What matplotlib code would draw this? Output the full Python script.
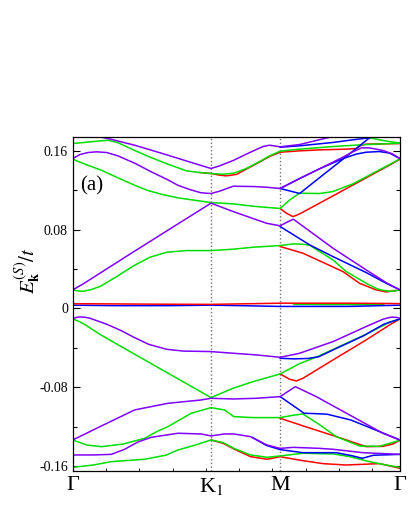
import numpy as np
import matplotlib
matplotlib.use('Agg')
import matplotlib.pyplot as plt
from matplotlib.ticker import MultipleLocator

plt.rcParams['font.family'] = ['Liberation Serif', 'DejaVu Serif']
plt.rcParams['mathtext.fontset'] = 'stix'
plt.rcParams['axes.unicode_minus'] = False

# high-symmetry points along the path (Gamma-K1 = 1)
k_ticks = [0.0, 1.0, 1.5, 1.5 + np.sqrt(3) / 2]
k_labels = ['Γ', 'K$_1$', 'M', 'Γ']

PURPLE = '#8000ff'
GREEN = '#00dd00'
RED = '#ff0000'
BLUE = '#0000ff'

# ---- bands above zero: (k, E/t) ----
P1 = [(0.12, 0.1800), (0.173, 0.1745), (0.255, 0.1724), (0.448, 0.1656), (0.568, 0.1606),
      (0.688, 0.1555), (0.881, 0.1471), (1.0, 0.1420), (1.063, 0.1447), (1.165, 0.1504),
      (1.280, 0.1582), (1.376, 0.1643), (1.424, 0.1656), (1.5, 0.1640), (1.641, 0.1663),
      (1.761, 0.1704), (1.882, 0.1745), (1.978, 0.1780)]
G1 = [(0.0, 0.1673), (0.125, 0.1690), (0.255, 0.1707), (0.33, 0.1680), (0.448, 0.1603),
      (0.568, 0.1530), (0.688, 0.1464), (0.823, 0.1396), (0.919, 0.1379), (1.0, 0.1369),
      (1.088, 0.1362), (1.165, 0.1373), (1.256, 0.1420), (1.352, 0.1491), (1.424, 0.1548),
      (1.5, 0.1596), (1.641, 0.1616), (1.882, 0.1643), (2.122, 0.1663), (2.366, 0.1677)]
R1 = [(0.919, 0.1379), (1.0, 0.1369), (1.063, 0.1352), (1.111, 0.1345), (1.184, 0.1360),
      (1.256, 0.1414), (1.352, 0.1486), (1.424, 0.1542), (1.5, 0.1585), (1.641, 0.1599),
      (1.785, 0.1609), (1.978, 0.1616), (2.050, 0.1623), (2.086, 0.1656), (2.122, 0.1667),
      (2.243, 0.1670), (2.366, 0.1673)]
G1b = [(2.074, 0.1765), (2.146, 0.1731), (2.243, 0.1704), (2.366, 0.1677)]
B1 = [(1.5, 0.1636), (1.641, 0.1650), (1.882, 0.1684), (2.026, 0.1711), (2.122, 0.1727),
      (2.194, 0.1745)]
B2 = [(1.5, 0.1217), (1.57, 0.1192), (1.641, 0.1166), (1.75, 0.1288), (1.954, 0.1514),
      (2.146, 0.1731), (2.194, 0.1780)]
B3 = [(1.5, 0.1217), (1.641, 0.1318), (1.785, 0.1417), (1.954, 0.1520), (2.050, 0.1566),
      (2.122, 0.1585), (2.218, 0.1592), (2.291, 0.1576), (2.366, 0.1521)]
P2 = [(0.0, 0.1521), (0.053, 0.1562), (0.111, 0.1582), (0.173, 0.1589), (0.245, 0.1582),
      (0.327, 0.1548), (0.448, 0.1474), (0.568, 0.1386), (0.688, 0.1305), (0.760, 0.1250),
      (0.847, 0.1206), (0.929, 0.1173), (1.0, 0.1166), (1.063, 0.1190), (1.160, 0.1240),
      (1.304, 0.1237), (1.400, 0.1230), (1.5, 0.1217), (1.641, 0.1318), (1.785, 0.1417),
      (1.954, 0.1535), (2.026, 0.1589), (2.089, 0.1629), (2.146, 0.1629), (2.243, 0.1603),
      (2.310, 0.1569), (2.366, 0.1521)]
G2 = [(0.0, 0.1514), (0.101, 0.1457), (0.207, 0.1403), (0.327, 0.1325), (0.448, 0.1250),
      (0.544, 0.1196), (0.640, 0.1159), (0.760, 0.1122), (0.881, 0.1098), (1.0, 0.1074),
      (1.160, 0.1061), (1.304, 0.1037), (1.5, 0.1014), (1.569, 0.1101), (1.641, 0.1169),
      (1.785, 0.1166), (1.882, 0.1186), (2.026, 0.1264), (2.209, 0.1399), (2.291, 0.1460),
      (2.366, 0.1518)]
R2 = [(1.5, 0.1014), (1.545, 0.0966), (1.593, 0.0932), (1.641, 0.0959), (1.882, 0.1142),
      (2.122, 0.1325), (2.291, 0.1454), (2.366, 0.1514)]
P3 = [(0.0, 0.0188), (0.077, 0.0250), (0.438, 0.0573), (0.80, 0.0892), (1.0, 0.1068),
      (1.160, 0.0983), (1.304, 0.0912), (1.400, 0.0865), (1.5, 0.0838), (1.553, 0.0878),
      (1.596, 0.0905), (1.882, 0.0611), (2.122, 0.0391), (2.267, 0.0262), (2.366, 0.0188)]
B4 = [(1.5, 0.0831), (1.713, 0.0645), (1.882, 0.0526), (2.122, 0.0364), (2.267, 0.0255),
      (2.366, 0.0188)]
G3 = [(0.0, 0.0188), (0.04, 0.0177), (0.077, 0.0174), (0.13, 0.0190), (0.197, 0.0222),
      (0.318, 0.0323), (0.438, 0.0431), (0.558, 0.0519), (0.679, 0.0570), (0.823, 0.0587),
      (1.0, 0.0587), (1.160, 0.0601), (1.304, 0.0621), (1.5, 0.0638), (1.596, 0.0655),
      (1.665, 0.0651), (1.713, 0.0641), (1.882, 0.0492), (1.978, 0.0374), (2.122, 0.0255),
      (2.200, 0.0200), (2.243, 0.0184), (2.291, 0.0174), (2.33, 0.0177), (2.366, 0.0188)]
R3 = [(1.5, 0.0628), (1.665, 0.0560), (1.954, 0.0374), (2.074, 0.0255), (2.194, 0.0188),
      (2.267, 0.0167), (2.366, 0.0188)]

# ---- flat bands near zero ----
R0 = [(0.0, 0.0048), (0.25, 0.0046), (0.6, 0.0043), (1.0, 0.0041), (1.25, 0.0047),
      (1.5, 0.0053), (2.0, 0.0053), (2.366, 0.0049)]
B0 = [(0.0, 0.0033), (0.3, 0.0028), (0.7, 0.0028), (1.0, 0.0033), (1.25, 0.0027),
      (1.5, 0.0020), (2.0, 0.0020), (2.366, 0.0033)]
G0 = [(1.6, 0.0040), (1.9, 0.0038), (2.25, 0.0039)]

# ---- bands below zero ----
LP1 = [(0.0, -0.0107), (0.025, -0.0092), (0.053, -0.0086), (0.09, -0.0090), (0.125, -0.0100),
       (0.245, -0.0160), (0.35, -0.0225), (0.438, -0.0290), (0.55, -0.0365), (0.68, -0.0415),
       (0.80, -0.0433), (1.0, -0.0438), (1.160, -0.0455), (1.328, -0.0472), (1.5, -0.0496),
       (1.641, -0.0455), (1.882, -0.0337), (2.122, -0.0184), (2.243, -0.0110), (2.29, -0.0092),
       (2.315, -0.0088), (2.345, -0.0092), (2.366, -0.0100)]
LB1 = [(1.5, -0.0506), (1.6, -0.0512), (1.70, -0.0508), (1.78, -0.0490), (1.9, -0.0410),
       (2.1, -0.0280), (2.25, -0.0160), (2.366, -0.0107)]
LG1 = [(0.0, -0.0107), (0.05, -0.0135), (0.101, -0.0175), (0.197, -0.0264), (0.438, -0.0457),
       (0.679, -0.0649), (0.919, -0.0840), (1.0, -0.0905), (1.160, -0.0810), (1.304, -0.0743),
       (1.5, -0.0665), (1.641, -0.0560), (1.76, -0.0495), (1.9, -0.0405), (2.122, -0.0262),
       (2.291, -0.0140), (2.366, -0.0107)]
LR1 = [(1.5, -0.0665), (1.569, -0.0719), (1.617, -0.0736), (1.665, -0.0709), (1.882, -0.0523),
       (2.122, -0.0320), (2.291, -0.0168), (2.366, -0.0107)]
LP2 = [(0.0, -0.1335), (0.197, -0.1200), (0.448, -0.1030), (0.688, -0.0963), (0.929, -0.0929),
       (1.0, -0.0912), (1.160, -0.0919), (1.328, -0.0912), (1.5, -0.0895), (1.610, -0.0794),
       (1.761, -0.0895), (2.002, -0.1081), (2.243, -0.1267), (2.366, -0.1335)]
LB2 = [(1.5, -0.0895), (1.673, -0.1064), (1.761, -0.1068), (1.841, -0.1074), (2.010, -0.1132),
       (2.131, -0.1200), (2.366, -0.1335)]
LG2 = [(0.0, -0.1335), (0.101, -0.1386), (0.207, -0.1403), (0.366, -0.1376), (0.520, -0.1318),
       (0.606, -0.1251), (0.688, -0.1200), (0.857, -0.1064), (1.0, -0.1007), (1.097, -0.1030),
       (1.165, -0.1098), (1.304, -0.1108), (1.5, -0.1108), (1.596, -0.1084), (1.665, -0.1071),
       (1.785, -0.1180), (1.906, -0.1301), (2.074, -0.1396), (2.218, -0.1400), (2.366, -0.1338)]
LR2 = [(1.5, -0.1115), (1.668, -0.1193), (1.906, -0.1301), (2.122, -0.1403), (2.243, -0.1400),
       (2.315, -0.1376), (2.366, -0.1338)]
LP3 = [(0.0, -0.1487), (0.149, -0.1487), (0.279, -0.1481), (0.375, -0.1430), (0.472, -0.1355),
       (0.568, -0.1308), (0.760, -0.1267), (0.929, -0.1274), (1.0, -0.1294), (1.097, -0.1274),
       (1.165, -0.1274), (1.284, -0.1301), (1.405, -0.1386), (1.5, -0.1420), (1.598, -0.1410),
       (1.785, -0.1420), (1.886, -0.1430), (2.098, -0.1464), (2.366, -0.1481)]
LB3 = [(1.30, -0.1310), (1.40, -0.1390), (1.5, -0.1433), (1.665, -0.1464), (1.906, -0.1464),
       (2.02, -0.1495), (2.094, -0.1521), (2.175, -0.1490), (2.366, -0.1481)]
LG3 = [(0.0, -0.1613), (0.149, -0.1589), (0.279, -0.1555), (0.520, -0.1531), (0.679, -0.1487),
       (0.760, -0.1437), (0.871, -0.1393), (1.0, -0.1335), (1.088, -0.1362), (1.165, -0.1420),
       (1.286, -0.1487), (1.406, -0.1511), (1.5, -0.1497), (1.665, -0.1470), (1.886, -0.1477),
       (2.002, -0.1504), (2.146, -0.1555), (2.267, -0.1589), (2.366, -0.1613)]
LR3 = [(1.0, -0.1335), (1.088, -0.1369), (1.165, -0.1426), (1.286, -0.1504), (1.406, -0.1531),
       (1.5, -0.1505), (1.665, -0.1545), (1.809, -0.1575), (1.976, -0.1589), (2.22, -0.1575),
       (2.366, -0.1623)]

# drawing order: red, green, blue, purple (purple ends up on top)
bands = [
    (R1, RED), (R2, RED), (R3, RED), (LR1, RED), (LR2, RED), (LR3, RED),
    (G1, GREEN), (G1b, GREEN), (G2, GREEN), (G3, GREEN), (G0, GREEN),
    (LG1, GREEN), (LG2, GREEN), (LG3, GREEN),
    (B1, BLUE), (B2, BLUE), (B3, BLUE), (B4, BLUE), (B0, BLUE),
    (LB1, BLUE), (LB2, BLUE), (LB3, BLUE),
    (R0, RED),
    (P1, PURPLE), (P2, PURPLE), (P3, PURPLE), (LP1, PURPLE), (LP2, PURPLE), (LP3, PURPLE),
]

fig = plt.figure(figsize=(4.11, 5.32), dpi=100)
ax = fig.add_axes([0.177, 0.1152, 0.796, 0.627])

for kv in k_ticks[1:3]:
    ax.axvline(kv, color='#707070', ls=':', lw=1.0, zorder=1)

for band, col in bands:
    k, e = zip(*band)
    ax.plot(k, e, color=col, lw=1.1, zorder=2)

ax.set_xlim(k_ticks[0], k_ticks[-1])
ax.set_ylim(-0.1647, 0.1738)

ax.set_xticks(k_ticks)
ax.set_xticklabels(k_labels, fontsize=16)
ax.xaxis.set_minor_locator(MultipleLocator(0.2405))
ax.set_yticks([-0.16, -0.08, 0, 0.08, 0.16])
ax.set_yticklabels(['-0.16', '-0.08', '0', '0.08', '0.16'], fontsize=10)
ax.yaxis.set_minor_locator(MultipleLocator(0.04))
ax.tick_params(axis='y', which='both', direction='in', left=True, right=True)
ax.tick_params(axis='y', which='major', length=5, width=0.8)
ax.tick_params(axis='y', which='minor', length=3, width=0.8)
ax.tick_params(axis='x', which='major', direction='in', length=0, pad=4)
ax.tick_params(axis='x', which='minor', direction='in', length=2.5, width=0.6, top=False)
for s in ax.spines.values():
    s.set_linewidth(0.9)

ax.set_ylabel(r'$E^{(S)}_{\mathbf{k}}/t$', fontsize=15)
ax.yaxis.set_label_coords(-0.095, 0.6)

ax.text(0.022, 0.853, '(a)', transform=ax.transAxes, fontsize=15, va='center', ha='left')

fig.savefig('out.png', dpi=100)
